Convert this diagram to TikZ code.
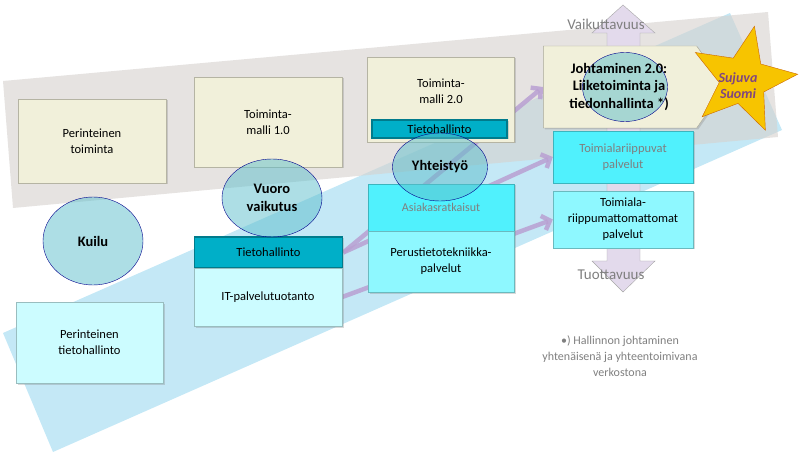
\documentclass[tikz,border=0pt]{standalone}
\usepackage{fontspec}
\setmainfont{Carlito}
\usetikzlibrary{shapes.geometric,shapes.symbols,arrows.meta,shadows}

\definecolor{beige}{HTML}{F1F0DA}
\definecolor{syaani}{HTML}{50F1FD}
\definecolor{vaalea}{HTML}{8EF8FF}
\definecolor{haalea}{HTML}{CCFCFF}
\definecolor{petrooli}{HTML}{00AFC8}
\definecolor{harmaa}{HTML}{7F7F7F}
\definecolor{violetti}{HTML}{B9A0D2}
\definecolor{laventeli}{HTML}{E3DAEC}
\definecolor{kulta}{HTML}{F7C400}
\definecolor{sinikaista}{HTML}{C4E8F6}
\definecolor{harmaakaista}{HTML}{D6D2CF}
\definecolor{kuplavari}{HTML}{5CBECB}

\pgfdeclarelayer{bands}
\pgfdeclarelayer{links}
\pgfsetlayers{bands,links,main}

\begin{document}
\begin{tikzpicture}[x=1pt, y=-1pt,
    laatikko/.style={rectangle, draw=#1!75!black, fill=#1, inner sep=0pt, align=center,
        drop shadow={shadow xshift=1.5pt, shadow yshift=-1.5pt, opacity=0.3},
        font=\fontsize{12.5}{16}\selectfont},
    kupla/.style={ellipse, draw=blue!55!black, fill=kuplavari, fill opacity=0.5,
        text opacity=1, inner sep=0pt, align=center, font=\fontsize{14.5}{18}\selectfont\bfseries},
    linkki/.style={-{Straight Barb[length=7pt, width=15pt]}, color=violetti, line width=4.5pt, opacity=0.85},
    selite/.style={text=harmaa, align=center}]

    \useasboundingbox (0,0) rectangle (800,454);

    % Taustat
    \begin{pgfonlayer}{bands}
        \fill [color=sinikaista] (3,333) -- (730,13) -- (782,130) -- (53,452) -- cycle;
        \fill [color=harmaakaista, opacity=0.62] (3,81) -- (768,12) -- (778,137) -- (13,208) -- cycle;
        % Nuoli ylos ja alas
        \draw [fill=laventeli, draw=black!35] (623,5) -- (655,33) -- (640,33) -- (640,261) -- (655,261)
            -- (623,292) -- (592,261) -- (607,261) -- (607,33) -- (592,33) -- cycle;
    \end{pgfonlayer}

    % Laatikot
    \node[laatikko=beige, minimum width=148pt, minimum height=84pt] (pertoim) at (92,141) {Perinteinen\\toiminta};
    \node[laatikko=beige, minimum width=148pt, minimum height=90pt] (malli1) at (268,122) {Toiminta-\\malli 1.0};
    \node[laatikko=beige, minimum width=147pt, minimum height=85pt] (malli2) at (440.5,99.5) {};
    \node[align=center, font=\fontsize{12.5}{16}\selectfont] (malli2txt) at (441,91) {Toiminta-\\malli 2.0};
    \node[laatikko=petrooli, draw=petrooli!70!black, line width=1.5pt, minimum width=135pt, minimum height=18pt,
        drop shadow={opacity=0}] (tieto2) at (439.5,129) {Tietohallinto};
    \node[signal, signal to=east, signal pointer angle=110, draw=beige!70!black, fill=beige, inner sep=0pt,
        minimum width=182pt, minimum height=82pt,
        drop shadow={shadow xshift=1.5pt, shadow yshift=-1.5pt, opacity=0.3}] (johto) at (620,87) {};
    \node[laatikko=syaani, minimum width=140pt, minimum height=52pt, text=harmaa] (riip) at (623,157) {Toimialariippuvat\\palvelut};
    \node[laatikko=vaalea, minimum width=140pt, minimum height=57pt] (riipmat) at (623,219.5) {Toimiala-\\riippumattomattomat\\palvelut};
    \node[laatikko=syaani, minimum width=146pt, minimum height=47pt, text=harmaa, font=\fontsize{12}{15}\selectfont] (asiakas) at (441,207.5) {Asiakasratkaisut};
    \node[laatikko=vaalea, minimum width=146pt, minimum height=61pt] (perus) at (441,261.5) {Perustietotekniikka-\\palvelut};
    \node[laatikko=petrooli, draw=petrooli!70!black, line width=1.5pt, minimum width=148pt, minimum height=31pt] (tieto) at (268.5,252.5) {Tietohallinto};
    \node[laatikko=haalea, minimum width=148pt, minimum height=58pt] (itpalv) at (268,297) {IT-palvelutuotanto};
    \node[laatikko=haalea, minimum width=147pt, minimum height=81pt] (pertieto) at (89.5,342.5) {Perinteinen\\tietohallinto};

    % Yhteydet
    \begin{pgfonlayer}{links}
        \draw [linkki] (tieto.east) -- (johto.west);
        \draw [linkki] (tieto.east) -- (riip.west);
        \draw [linkki] (itpalv.east) -- (riipmat.west);
    \end{pgfonlayer}

    % Kuplat
    \node[kupla, minimum width=100pt, minimum height=88pt] (kuilu) at (93,241) {Kuilu};
    \node[kupla, minimum width=100pt, minimum height=78pt] (vuoro) at (272,198) {Vuoro\\vaikutus};
    \node[kupla, minimum width=95pt, minimum height=68pt] (yhteis) at (440,167) {Yhteistyö};
    \node[kupla, minimum width=85pt, minimum height=69pt] (johtokupla) at (625,87) {};
    \node[align=center, font=\fontsize{14.5}{17.5}\selectfont\bfseries] (johtotxt) at (619,87)
        {Johtaminen 2.0:\\Liiketoiminta ja\\tiedonhallinta *)};

    % Tahti
    \node[star, star points=5, star point ratio=2.3, shape border rotate=-12, minimum size=110pt,
        fill=kulta, draw=orange!80!black, inner sep=0pt] (tahti) at (743,80) {};
    \node[align=center, text=violet!45!gray, font=\fontsize{14}{16}\selectfont\bfseries\itshape] (sujuva) at (738,86) {Sujuva\\Suomi};

    % Tekstit
    \node[selite, font=\fontsize{15}{18}\selectfont] (vaik) at (606,24) {Vaikuttavuus};
    \node[selite, font=\fontsize{15}{18}\selectfont] (tuot) at (611,275) {Tuottavuus};
    \node[selite, font=\fontsize{12}{16}\selectfont] (huom) at (620,356)
        {•) Hallinnon johtaminen\\yhtenäisenä ja yhteentoimivana\\verkostona};

\end{tikzpicture}
\end{document}
